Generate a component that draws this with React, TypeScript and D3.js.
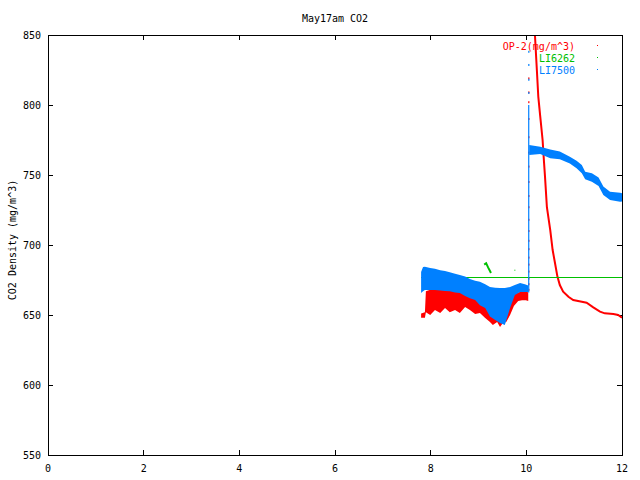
import React from "react";
import * as d3 from "d3";

const title = "May17am CO2";
const yLabel = "CO2 Density (mg/m^3)";
const xTicks = [0, 2, 4, 6, 8, 10, 12];
const yTicks = [550, 600, 650, 700, 750, 800, 850];

// OP-2: noisy band before the jump (time in h, lower / upper edge)
const opBandTime = [7.8, 7.88, 7.9, 7.99, 8.09, 8.2, 8.3, 8.4, 8.51, 8.61, 8.72, 8.82, 8.93, 9.03, 9.14, 9.24, 9.3, 9.39, 9.45, 9.51, 9.58, 9.66, 9.74, 9.83, 9.91, 9.99, 10.04];
const opBandLow = [648, 648, 652, 650, 653.6, 651.4, 655, 652, 653.6, 651.4, 655.7, 653.6, 650.7, 651.4, 647.9, 645, 642.9, 645, 641.4, 644.3, 645, 650, 656.4, 660, 660.5, 660.5, 660];
const opBandHigh = [651, 652, 667, 668, 668, 668, 668, 668, 668, 668, 668, 666, 664, 663, 662, 660, 659, 658, 658, 658, 659, 662, 665, 666, 667, 667, 666];
// OP-2: scattered points of the jump at 10.05 h
const opJumpTime = 10.05;
const opJumpValues = [668, 672, 676, 681, 686, 691, 697, 703, 710, 718, 727, 735, 745, 756, 766, 777, 790, 802, 809, 819];
// OP-2: decay after the peak
const opDecayTime = [10.16, 10.18, 10.22, 10.25, 10.29, 10.34, 10.37, 10.39, 10.43, 10.5, 10.55, 10.6, 10.65, 10.7, 10.77, 10.88, 10.98, 11.16, 11.26, 11.4, 11.54, 11.64, 11.82, 11.92, 12.0];
const opDecayValues = [870, 850, 825, 806, 792, 775, 759, 749, 727, 710.7, 696.4, 687, 677.4, 671.4, 666.7, 663, 660.7, 659.5, 658.8, 655.5, 652.4, 651.2, 650.7, 650, 648];

// LI6262
const liaTime = [7.8, 12.0];
const liaValues = [677, 677];
const liaBumpTime = [9.12, 9.16, 9.2, 9.24, 9.26];
const liaBumpValues = [686, 687, 684, 681.5, 680];
const liaDotTime = [9.76];
const liaDotValues = [682];

// LI7500: band before the jump
const lib1Time = [7.8, 7.84, 7.88, 7.99, 8.09, 8.2, 8.3, 8.4, 8.51, 8.61, 8.72, 8.82, 8.93, 9.03, 9.14, 9.24, 9.35, 9.45, 9.55, 9.66, 9.76, 9.87, 9.97, 10.04];
const lib1High = [680.7, 684.3, 684.5, 683.6, 683, 682, 681.5, 680.5, 679.5, 678.6, 677.5, 675.7, 674.5, 673.8, 672, 670, 669.5, 669.3, 669.3, 670, 671.4, 672.9, 672, 671];
const lib1Low = [665.7, 667, 667.9, 667.9, 667.9, 667.5, 667.2, 667, 666, 665.7, 663.6, 662, 660.7, 657, 655, 649, 646.4, 644.3, 642.9, 655, 664.3, 666.4, 666.4, 666.4];
// LI7500: jump at 10.05 h (solid part and dots above)
const libJumpTime = 10.05;
const libJumpRange = [666, 800];
const libJumpDots = [808.6, 818, 828.6, 838];
// LI7500: band after the jump
const lib2Time = [10.06, 10.29, 10.5, 10.7, 10.91, 11.05, 11.16, 11.23, 11.37, 11.51, 11.61, 11.75, 11.96, 12.0];
const lib2High = [771.4, 770.2, 768.3, 766.7, 763.1, 760.2, 757.1, 752.4, 751.2, 748.3, 741.7, 738.1, 737.4, 737];
const lib2Low = [764.3, 765, 761.9, 761.2, 758.3, 754.8, 751.2, 746.9, 745.2, 742.1, 735.7, 732.1, 730.9, 731];

const legendNames = ["OP-2(mg/m^3)", "LI6262", "LI7500"];
const legendColors = ["#ff0000", "#00c000", "#0080ff"];

const W = 640;
const H = 480;
const m = { top: 35, right: 18, bottom: 25, left: 48 };
const font = "'DejaVu Sans Mono', monospace";

const App: React.FC = () => {
  const x = d3.scaleLinear().domain([0, 12]).range([m.left, W - m.right]);
  const y = d3.scaleLinear().domain([550, 850]).range([H - m.bottom, m.top]);

  const band = (t: number[], lo: number[], hi: number[]) =>
    d3.area<number>()
      .x((_, i) => x(t[i]))
      .y0((_, i) => y(lo[i]))
      .y1((_, i) => y(hi[i]))(t) || "";

  const line = (t: number[], v: number[]) =>
    d3.line<number>()
      .x((_, i) => x(t[i]))
      .y((d) => y(d))(v) || "";

  const x0 = m.left;
  const x1 = W - m.right;
  const y0 = H - m.bottom;
  const y1 = m.top;

  return (
    <svg width={W} height={H} style={{ position: "absolute", left: 0, top: 0, background: "#fff" }}
      fontFamily={font} fontSize={10}>
      <defs>
        <clipPath id="plot">
          <rect x={x0} y={y1} width={x1 - x0} height={y0 - y1} />
        </clipPath>
      </defs>

      <text x={(x0 + x1) / 2} y={22} textAnchor="middle">{title}</text>
      <text transform={`translate(16,${(y0 + y1) / 2 - 5}) rotate(-90)`} textAnchor="middle">{yLabel}</text>

      <g shapeRendering="crispEdges" stroke="#000">
        {xTicks.map((t) => (
          <g key={"x" + t}>
            <line x1={x(t)} x2={x(t)} y1={y0} y2={y0 - 5} />
            <line x1={x(t)} x2={x(t)} y1={y1} y2={y1 + 5} />
          </g>
        ))}
        {yTicks.map((v) => (
          <g key={"y" + v}>
            <line x1={x0} x2={x0 + 5} y1={y(v)} y2={y(v)} />
            <line x1={x1} x2={x1 - 5} y1={y(v)} y2={y(v)} />
          </g>
        ))}
      </g>
      {xTicks.map((t) => (
        <text key={"xl" + t} x={x(t)} y={y0 + 17} textAnchor="middle">{t}</text>
      ))}
      {yTicks.map((v) => (
        <text key={"yl" + v} x={x0 - 7} y={y(v) + 4} textAnchor="end">{v}</text>
      ))}

      <g clipPath="url(#plot)">
        {/* OP-2 */}
        <path d={band(opBandTime, opBandLow, opBandHigh)} fill="#ff0000" />
        {opJumpValues.map((v, i) => (
          <rect key={"oj" + i} x={x(opJumpTime) - 0.5} y={y(v) - 1} width={1.2} height={2} fill="#ff0000" />
        ))}
        <path d={line(opDecayTime, opDecayValues)} fill="none" stroke="#ff0000" strokeWidth={2} />

        {/* LI6262 */}
        <path d={line(liaTime, liaValues)} fill="none" stroke="#00c000" strokeWidth={1} shapeRendering="crispEdges" />
        <path d={line(liaBumpTime, liaBumpValues)} fill="none" stroke="#00c000" strokeWidth={2} />
        {liaDotValues.map((v, i) => (
          <rect key={"ld" + i} x={x(liaDotTime[i]) - 0.5} y={y(v) - 0.5} width={1} height={1} fill="#00c000" />
        ))}

        {/* LI7500 */}
        <path d={band(lib1Time, lib1Low, lib1High)} fill="#0080ff" />
        <line x1={x(libJumpTime)} x2={x(libJumpTime)} y1={y(libJumpRange[0])} y2={y(libJumpRange[1])}
          stroke="#0080ff" strokeWidth={1.2} />
        {libJumpDots.map((v, i) => (
          <rect key={"bj" + i} x={x(libJumpTime) - 0.5} y={y(v) - 1} width={1.2} height={2} fill="#0080ff" />
        ))}
        <path d={band(lib2Time, lib2Low, lib2High)} fill="#0080ff" />
      </g>

      {legendNames.map((name, i) => (
        <g key={name}>
          <text x={575} y={50 + i * 12} textAnchor="end" fill={legendColors[i]}>{name}</text>
          <rect x={597} y={45 + i * 12} width={1} height={1} fill={legendColors[i]} />
        </g>
      ))}

      <rect x={x0} y={y1} width={x1 - x0} height={y0 - y1} fill="none" stroke="#000" shapeRendering="crispEdges" />
    </svg>
  );
};

export default App;
